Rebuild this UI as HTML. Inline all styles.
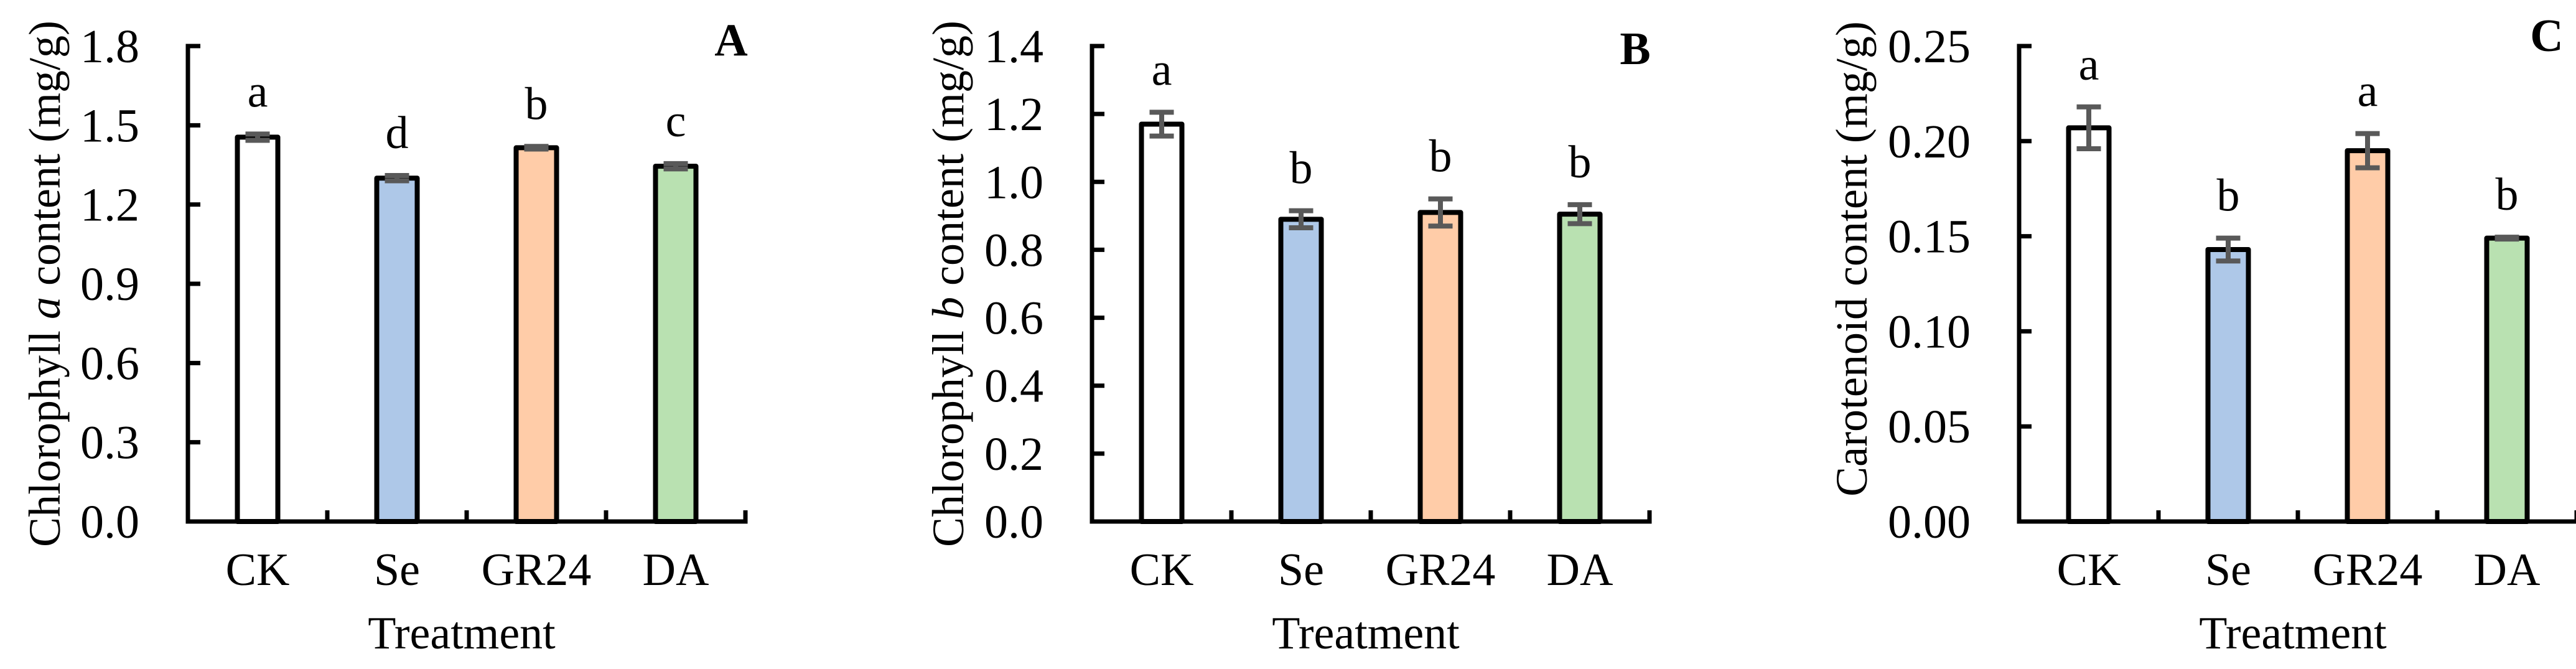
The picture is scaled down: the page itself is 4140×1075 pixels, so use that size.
<!DOCTYPE html>
<html><head><meta charset="utf-8"><style>
html,body{margin:0;padding:0;background:#fff;}
svg{display:block;}
text{font-family:"Liberation Serif","Times New Roman",serif;fill:#000;}
</style></head>
<body>
<svg id="chart" width="4140" height="1075" viewBox="0 0 4140 1075" xmlns="http://www.w3.org/2000/svg"></svg>
<script>
const categories = ["CK","Se","GR24","DA"];
const fills = ["#ffffff","#aec8e8","#ffcca8","#b9e1b1"];
const valuesA = [1.455,1.300,1.415,1.345];
const errorsA = [0.012,0.010,0.005,0.010];
const lettersA = ["a","d","b","c"];
const ticksA = ["0.0","0.3","0.6","0.9","1.2","1.5","1.8"];
const valuesB = [1.170,0.890,0.910,0.905];
const errorsB = [0.035,0.025,0.040,0.028];
const lettersB = ["a","b","b","b"];
const ticksB = ["0.0","0.2","0.4","0.6","0.8","1.0","1.2","1.4"];
const valuesC = [0.207,0.143,0.195,0.149];
const errorsC = [0.011,0.006,0.009,0.0005];
const lettersC = ["a","b","a","b"];
const ticksC = ["0.00","0.05","0.10","0.15","0.20","0.25"];

const NS="http://www.w3.org/2000/svg";
const svg=document.getElementById('chart');
function mk(tag,attrs,parent){const e=document.createElementNS(NS,tag);for(const k in attrs)e.setAttribute(k,attrs[k]);(parent||svg).appendChild(e);return e;}

function panel(id,ax,vals,errs,lets,ticks,title,titleX,titleY,italicWord,letter,letterX,letterY){
  const g=mk('g',{});
  
  
  const y0=838, yTop=74, W=896;
  const tmax=parseFloat(ticks[ticks.length-1]);
  const ys=v=>y0-(v/tmax)*(y0-yTop);
  const step=W/categories.length;
  const xc=i=>ax+step*(i+0.5);
  vals.forEach((v,i)=>{
    const r=mk('rect',{x:xc(i)-32.5,y:ys(v),width:65,height:y0-ys(v),fill:fills[i],stroke:'#000','stroke-width':8,'stroke-linejoin':'round'},g);
    
    
  });
  vals.forEach((v,i)=>{
    const e=errs[i];
    const eg=mk('g',{stroke:'#595959','stroke-width':8},g);
    
    
    mk('line',{x1:xc(i),x2:xc(i),y1:ys(v+e),y2:ys(v-e)},eg);
    mk('line',{x1:xc(i)-19.5,x2:xc(i)+19.5,y1:ys(v+e),y2:ys(v+e)},eg);
    mk('line',{x1:xc(i)-19.5,x2:xc(i)+19.5,y1:ys(v-e),y2:ys(v-e)},eg);
    const t=mk('text',{x:xc(i),y:ys(v+e)-44,'font-size':74,'text-anchor':'middle'},g);
    t.textContent=lets[i];
    
    
  });
  const axg=mk('g',{stroke:'#000','stroke-width':7,fill:'none'},g);
  
  
  mk('path',{d:`M${ax} ${yTop} L${ax} ${y0} L${ax+W} ${y0}`,'stroke-linecap':'square'},axg);
  ticks.forEach(t=>{
    const y=ys(parseFloat(t));
    mk('line',{x1:ax,x2:ax+20,y1:y,y2:y},axg);
    const tl=mk('text',{x:ax-78,y:y+26,'font-size':76,'text-anchor':'end'},g);
    tl.textContent=t;
    
    
  });
  for(let i=1;i<=categories.length;i++){
    mk('line',{x1:ax+step*i,x2:ax+step*i,y1:y0,y2:y0-18},axg);
  }
  categories.forEach((c,i)=>{
    const t=mk('text',{x:xc(i),y:940,'font-size':74,'text-anchor':'middle'},g);
    t.textContent=c;
    
    
  });
  const xt=mk('text',{x:ax+W/2-8,y:1042,'font-size':74,'text-anchor':'middle'},g);
  xt.textContent='Treatment';
  
  
  const yt=mk('text',{x:0,y:0,'font-size':72,'text-anchor':'middle',transform:`translate(${titleX+24},${titleY}) rotate(-90)`},g);
  
  
  if(italicWord){
    const s1=mk('tspan',{},yt);s1.textContent=title[0];
    const s2=mk('tspan',{'font-style':'italic'},yt);s2.textContent=italicWord;
    const s3=mk('tspan',{},yt);s3.textContent=title[1];
  } else {yt.textContent=title;}
  const pl=mk('text',{x:letterX,y:letterY,'font-size':74,'font-weight':'bold','text-anchor':'middle'},g);
  pl.textContent=letter;
  
  
}
panel('a',302,valuesA,errorsA,lettersA,ticksA,['Chlorophyll ',' content (mg/g)'],72,456,'a','A',1175,89);
panel('b',1755,valuesB,errorsB,lettersB,ticksB,['Chlorophyll ',' content (mg/g)'],1524,456,'b','B',2628,103);
panel('c',3245,valuesC,errorsC,lettersC,ticksC,'Carotenoid content (mg/g)',2976,416,null,'C',4093,82);
</script>
</body></html>
